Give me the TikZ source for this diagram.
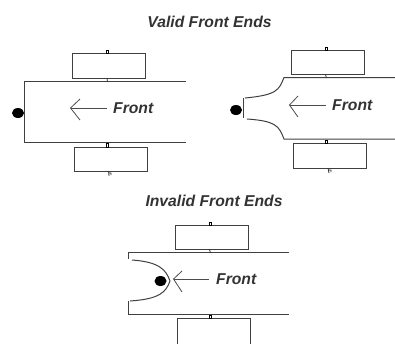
\documentclass[tikz,border=0pt]{standalone}
\usepackage{fontspec}
\setmainfont{Liberation Sans}
\tikzset{
  x=1pt,y=-1pt,
  wall/.style={draw=black!75,line width=1pt},
  boxr/.style={draw=black!75,line width=1pt,fill=white},
  tiny/.style={draw=black,line width=0.7pt,fill=white},
  pin/.style={draw=black!80,line width=0.8pt},
  blob/.style={fill=black},
  lab/.style={font=\bfseries\itshape\fontsize{15.7}{18}\selectfont,text=black!80,inner sep=0pt,anchor=west},
  ttl/.style={font=\bfseries\itshape\fontsize{15.7}{18}\selectfont,text=black!80,inner sep=0pt},
  arr/.style={draw=black!70,line width=0.8pt},
}
\begin{document}
\begin{tikzpicture}
\useasboundingbox (0,0) rectangle (395,343);
\node[ttl] (t1) at (209.5,22) {Valid Front Ends};
\node[ttl] (t2) at (214,200.5) {Invalid Front Ends};
% Diagram 1
\draw[boxr] (72,53) rectangle (145,78);
\draw[boxr] (74.5,147) rectangle (147,171);
\draw[wall] (186,81) -- (24,81) -- (24,142) -- (186,142);
\draw[tiny] (106.5,50.5) rectangle (108.5,53);
\draw[tiny] (106.5,143) rectangle (108.5,147);
\draw[pin] (107,78) -- (107.5,82);
\draw[pin] (108.5,171) -- (109,176) (109,173) -- (111,173) -- (111,175);
\fill[blob] (18,113) ellipse (6 and 5);
\draw[arr] (107,108) -- (71,108);
\draw[arr] (80,99) -- (70.5,108) -- (80,120);
\node[lab] (f1) at (113,108) {Front};
% Diagram 2
\draw[boxr] (291.5,50) rectangle (364,74.5);
\draw[boxr] (293.5,143.5) rectangle (366,168);
\draw[wall] (395,77.5) -- (284,77.5) .. controls (279,90) and (277,95) .. (245,98);
\draw[wall] (395,139) -- (284,139) .. controls (279,126) and (276,121) .. (247,119);
\draw[wall] (243,98) -- (243,118);
\draw[tiny] (325.5,47) rectangle (327.5,50);
\draw[tiny] (325.5,140) rectangle (327.5,143.5);
\draw[pin] (325.5,74.5) -- (326.5,78);
\draw[pin] (328,168) -- (329,173) (329,170) -- (331,170) -- (331,172);
\fill[blob] (236,110) ellipse (6 and 5);
\draw[arr] (326,105) -- (290,105);
\draw[arr] (298,96) -- (289.5,105) -- (298,117);
\node[lab] (f2) at (332,105) {Front};
% Diagram 3
\draw[boxr] (175,225) rectangle (248,249.5);
\draw[boxr] (177.5,343.5) -- (177.5,318.5) -- (250,318.5) -- (250,343.5);
\draw[wall] (289,252.5) -- (128,252.5) -- (128,259);
\draw[wall] (128,301) -- (128,314) -- (289,314);
\draw[wall] (132,260) .. controls (160,262) and (166,270) .. (170,281) .. controls (166,292) and (160,299) .. (130,301);
\draw[tiny] (209,222) rectangle (211,225);
\draw[tiny] (209,315) rectangle (211,318.5);
\draw[pin] (209.5,249.5) -- (210.5,253);
\fill[blob] (160.5,281) ellipse (6 and 5);
\draw[arr] (209,279) -- (174,279);
\draw[arr] (182,271) -- (173.5,279) -- (182,292);
\node[lab] (f3) at (216,279) {Front};
\end{tikzpicture}
\end{document}
